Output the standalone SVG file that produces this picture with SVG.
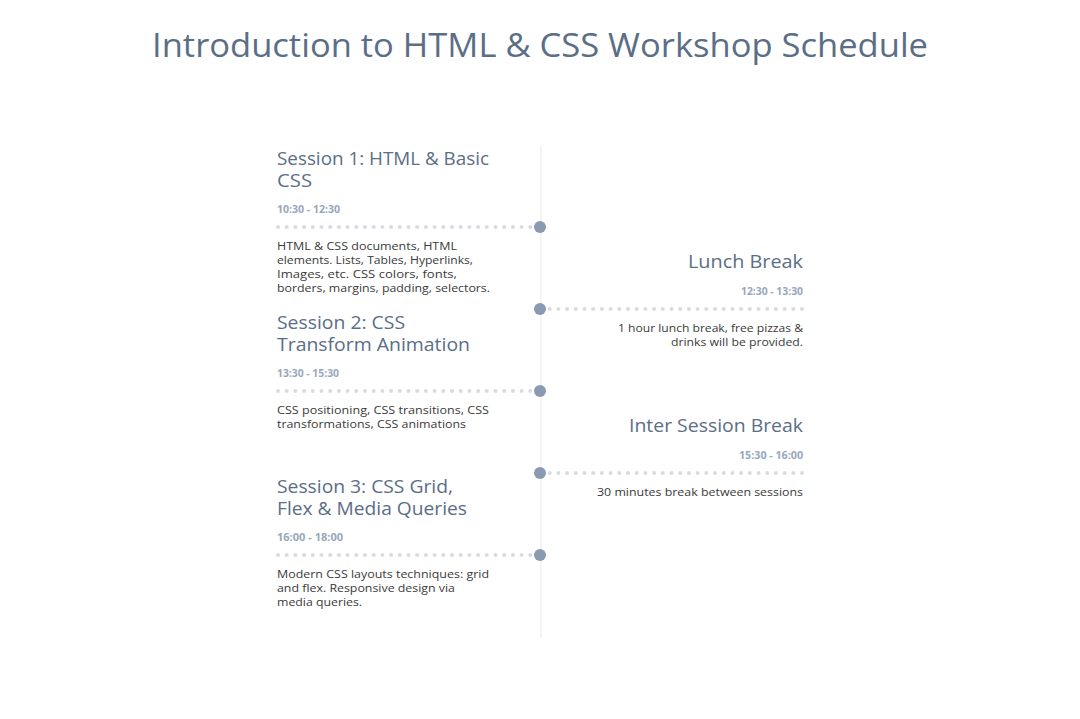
<svg xmlns="http://www.w3.org/2000/svg" width="1080" height="719" viewBox="0 0 1080 719">
<style>
  text{font-family:"Open Sans","Noto Sans","Liberation Sans",sans-serif}
  .title{font-size:33px;fill:#5b6e87;font-weight:500}
  .head{font-size:18px;fill:#5b6e87;font-weight:500}
  .time{font-size:10.5px;fill:#97a7bd;font-weight:700}
  .desc{font-size:11.5px;fill:#3a3a3a}
  .r{text-anchor:end}
  .dots{stroke:#d7dce3;stroke-width:4;stroke-linecap:round;stroke-dasharray:0 8.7;fill:none}
  .dot{fill:#8a9bb1}
  .axis{stroke:#f0f0f0;stroke-width:1.5}
</style>
<rect width="1080" height="719" fill="#ffffff"/>
<text class="title" x="540" y="57" text-anchor="middle" textLength="776" lengthAdjust="spacingAndGlyphs">Introduction to HTML &amp; CSS Workshop Schedule</text>

<g id="axis"><line class="axis" x1="541" y1="145" x2="541" y2="638"/></g>

<g id="connectors">
  <line class="dots" x1="278" y1="227" x2="534" y2="227"/>
  <line class="dots" x1="802" y1="309" x2="546" y2="309"/>
  <line class="dots" x1="278" y1="391" x2="534" y2="391"/>
  <line class="dots" x1="802" y1="473" x2="546" y2="473"/>
  <line class="dots" x1="278" y1="555" x2="534" y2="555"/>
</g>

<g id="session1">
  <text class="head" x="277" y="165" textLength="212" lengthAdjust="spacingAndGlyphs">Session 1: HTML &amp; Basic</text>
  <text class="head" x="277" y="187" textLength="35" lengthAdjust="spacingAndGlyphs">CSS</text>
  <text class="time" x="277" y="213" textLength="63" lengthAdjust="spacingAndGlyphs">10:30 - 12:30</text>
  <circle class="dot" cx="540" cy="227" r="6"/>
  <text class="desc" x="277" y="250" textLength="180" lengthAdjust="spacingAndGlyphs">HTML &amp; CSS documents, HTML</text>
  <text class="desc" x="277" y="264" textLength="196" lengthAdjust="spacingAndGlyphs">elements. Lists, Tables, Hyperlinks,</text>
  <text class="desc" x="277" y="278" textLength="180" lengthAdjust="spacingAndGlyphs">Images, etc. CSS colors, fonts,</text>
  <text class="desc" x="277" y="292" textLength="213" lengthAdjust="spacingAndGlyphs">borders, margins, padding, selectors.</text>
</g>

<g id="lunch">
  <text class="head r" x="803" y="268" textLength="115" lengthAdjust="spacingAndGlyphs">Lunch Break</text>
  <text class="time r" x="803" y="295" textLength="62" lengthAdjust="spacingAndGlyphs">12:30 - 13:30</text>
  <circle class="dot" cx="540" cy="309" r="6"/>
  <text class="desc r" x="803" y="332" textLength="185" lengthAdjust="spacingAndGlyphs">1 hour lunch break, free pizzas &amp;</text>
  <text class="desc r" x="803" y="346" textLength="132" lengthAdjust="spacingAndGlyphs">drinks will be provided.</text>
</g>

<g id="session2">
  <text class="head" x="277" y="329" textLength="128" lengthAdjust="spacingAndGlyphs">Session 2: CSS</text>
  <text class="head" x="277" y="351" textLength="193" lengthAdjust="spacingAndGlyphs">Transform Animation</text>
  <text class="time" x="277" y="377" textLength="62" lengthAdjust="spacingAndGlyphs">13:30 - 15:30</text>
  <circle class="dot" cx="540" cy="391" r="6"/>
  <text class="desc" x="277" y="414" textLength="212" lengthAdjust="spacingAndGlyphs">CSS positioning, CSS transitions, CSS</text>
  <text class="desc" x="277" y="428" textLength="189" lengthAdjust="spacingAndGlyphs">transformations, CSS animations</text>
</g>

<g id="interbreak">
  <text class="head r" x="803" y="432" textLength="174" lengthAdjust="spacingAndGlyphs">Inter Session Break</text>
  <text class="time r" x="803" y="459" textLength="64" lengthAdjust="spacingAndGlyphs">15:30 - 16:00</text>
  <circle class="dot" cx="540" cy="473" r="6"/>
  <text class="desc r" x="803" y="496" textLength="206" lengthAdjust="spacingAndGlyphs">30 minutes break between sessions</text>
</g>

<g id="session3">
  <text class="head" x="277" y="493" textLength="176" lengthAdjust="spacingAndGlyphs">Session 3: CSS Grid,</text>
  <text class="head" x="277" y="515" textLength="190" lengthAdjust="spacingAndGlyphs">Flex &amp; Media Queries</text>
  <text class="time" x="277" y="541" textLength="66" lengthAdjust="spacingAndGlyphs">16:00 - 18:00</text>
  <circle class="dot" cx="540" cy="555" r="6"/>
  <text class="desc" x="277" y="578" textLength="212" lengthAdjust="spacingAndGlyphs">Modern CSS layouts techniques: grid</text>
  <text class="desc" x="277" y="592" textLength="178" lengthAdjust="spacingAndGlyphs">and flex. Responsive design via</text>
  <text class="desc" x="277" y="606" textLength="85" lengthAdjust="spacingAndGlyphs">media queries.</text>
</g>
</svg>
